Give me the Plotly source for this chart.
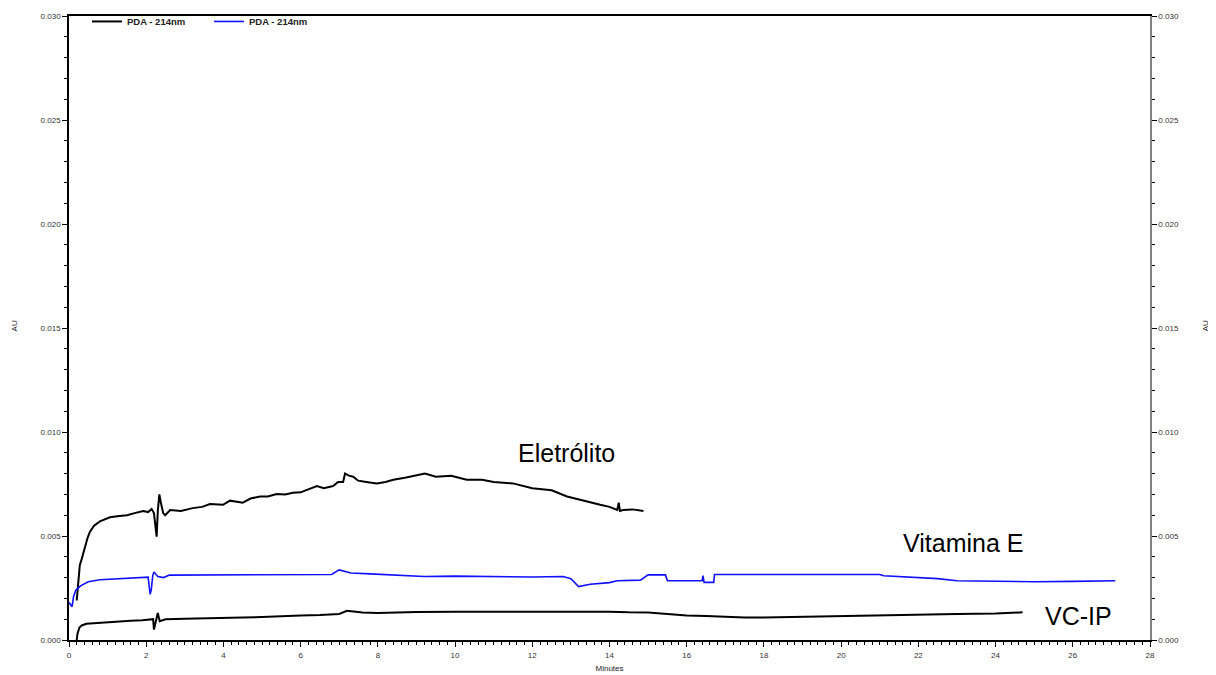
import plotly.graph_objects as go

# ---- data ----
eletrolito_t = [0.20, 0.24, 0.28, 0.33, 0.40, 0.48, 0.54, 0.65, 0.80, 0.95, 1.06, 1.25, 1.50, 1.70, 1.92, 2.05, 2.14,
                2.20, 2.24, 2.27, 2.30, 2.34, 2.38, 2.44, 2.49, 2.62, 2.90, 3.20, 3.45, 3.65, 3.99, 4.17, 4.35, 4.50,
                4.70, 4.95, 5.15, 5.38, 5.60, 5.80, 6.00, 6.16, 6.42, 6.60, 6.84, 6.97, 7.10, 7.15, 7.25, 7.36, 7.49,
                7.70, 7.97, 8.20, 8.40, 8.70, 9.00, 9.22, 9.50, 9.90, 10.30, 10.70, 11.00, 11.50, 12.00, 12.50, 12.90,
                13.30, 13.76, 14.00, 14.20, 14.24, 14.27, 14.35, 14.60, 14.88]
eletrolito_v = [0.0019, 0.0030, 0.0036, 0.0039, 0.0044, 0.0049, 0.0052, 0.0055, 0.0057, 0.0058, 0.0059, 0.00595, 0.0060,
                0.0061, 0.0062, 0.00615, 0.0063, 0.0061, 0.0055, 0.00497, 0.0062, 0.0070, 0.0066, 0.0061, 0.0060,
                0.00625, 0.0062, 0.00634, 0.0064, 0.00654, 0.0065, 0.0067, 0.00665, 0.0066, 0.0068, 0.0069, 0.0069,
                0.00702, 0.0070, 0.00708, 0.0071, 0.0072, 0.0074, 0.0073, 0.0074, 0.0076, 0.0076, 0.0080, 0.0079,
                0.00785, 0.00766, 0.0076, 0.00753, 0.0076, 0.0077, 0.0078, 0.0079, 0.0080, 0.00785, 0.0079, 0.0077,
                0.0077, 0.0076, 0.00753, 0.0073, 0.0072, 0.0069, 0.0067, 0.0065, 0.0064, 0.00625, 0.0066, 0.0062,
                0.00625, 0.00628, 0.0062]

vitamina_t = [0.00, 0.05, 0.08, 0.12, 0.18, 0.30, 0.50, 0.80, 1.20, 1.70, 2.05, 2.10, 2.13, 2.17, 2.20, 2.30, 2.45,
              2.60, 4.00, 5.00, 6.00, 6.80, 7.00, 7.30, 7.80, 8.50, 9.20, 10.00, 11.00, 12.00, 12.80, 13.00, 13.20,
              13.50, 14.00, 14.20, 14.80, 15.00, 15.45, 15.50, 16.40, 16.42, 16.45, 16.70, 16.72, 21.00, 21.10,
              21.90, 22.50, 23.00, 24.00, 25.00, 26.00, 27.10]
vitamina_v = [0.0018, 0.0017, 0.0016, 0.0021, 0.0024, 0.0026, 0.0028, 0.0029, 0.00295, 0.0030, 0.00302, 0.0022,
              0.0024, 0.0031, 0.00327, 0.00305, 0.0030, 0.00312, 0.00313, 0.00313, 0.00315, 0.00315, 0.00337,
              0.00322, 0.00318, 0.00313, 0.00305, 0.00307, 0.00305, 0.00303, 0.00305, 0.00295, 0.00257, 0.00268,
              0.00276, 0.00285, 0.00288, 0.00313, 0.00313, 0.00285, 0.00285, 0.0031, 0.00277, 0.00277, 0.00315,
              0.00315, 0.00309, 0.00301, 0.00295, 0.00285, 0.00283, 0.0028, 0.00282, 0.00285]

vcip_t = [0.20, 0.22, 0.27, 0.33, 0.45, 0.60, 0.80, 1.00, 1.30, 1.60, 1.90, 2.10, 2.18, 2.20, 2.25, 2.30, 2.35, 2.50,
          3.00, 3.50, 4.00, 4.50, 5.00, 5.50, 6.00, 6.50, 7.00, 7.20, 7.60, 8.00, 8.50, 9.00, 10.00, 11.00, 12.00,
          13.00, 14.00, 14.50, 15.00, 15.50, 16.00, 16.50, 17.00, 17.50, 18.00, 18.50, 19.00, 20.00, 21.00, 22.00,
          23.00, 24.00, 24.50, 24.70]
vcip_v = [0.0000, 0.0003, 0.0006, 0.0007, 0.00078, 0.0008, 0.00085, 0.00088, 0.0009, 0.00093, 0.00095, 0.00098,
          0.0010, 0.0005, 0.0009, 0.0013, 0.0009, 0.0010, 0.00102, 0.00103, 0.00105, 0.00108, 0.0011, 0.00115,
          0.00118, 0.0012, 0.00125, 0.0014, 0.00132, 0.0013, 0.00133, 0.00135, 0.00136, 0.00136, 0.00138, 0.00137,
          0.00136, 0.00133, 0.00132, 0.00125, 0.00118, 0.00115, 0.0011, 0.00108, 0.00108, 0.0011, 0.00112, 0.00115,
          0.00118, 0.00123, 0.00125, 0.00127, 0.0013, 0.00133]

legend_label = "PDA - 214nm"
labels = ["Eletrólito", "Vitamina E", "VC-IP"]
label_pos = [(12.88, 0.00899), (23.15, 0.00466), (26.14, 0.00115)]

x_range = [0, 28]
y_range = [0, 0.030]

FONT = "Liberation Sans, Arial, sans-serif"

fig = go.Figure()
fig.add_trace(go.Scatter(x=eletrolito_t, y=eletrolito_v, mode="lines", name="<b>" + legend_label + "</b>",
                         line=dict(color="black", width=2), showlegend=True))
fig.add_trace(go.Scatter(x=vitamina_t, y=vitamina_v, mode="lines", name="<b>" + legend_label + "</b>",
                         line=dict(color="#1010ff", width=1.6), showlegend=True))
fig.add_trace(go.Scatter(x=vcip_t, y=vcip_v, mode="lines", name="VC-IP",
                         line=dict(color="black", width=2), showlegend=False))
# invisible trace to anchor right axis
fig.add_trace(go.Scatter(x=vcip_t, y=vcip_v, mode="lines", yaxis="y2", opacity=0,
                         showlegend=False, hoverinfo="skip", line=dict(width=0.1)))

for txt, (ax, ay) in zip(labels, label_pos):
    fig.add_annotation(x=ax, y=ay, text=txt, showarrow=False,
                       font=dict(family=FONT, size=25, color="black"))

fig.add_annotation(xref="paper", yref="paper", x=-0.0566, y=0.503, text="AU", textangle=-90,
                   showarrow=False, font=dict(family=FONT, size=8, color="#222"))
fig.add_annotation(xref="paper", yref="paper", x=1.057, y=0.503, text="AU", textangle=-90,
                   showarrow=False, font=dict(family=FONT, size=8, color="#222"))

axis_font = dict(family=FONT, size=8, color="#333")

# page body has an 8px margin, so figure is 8px smaller and margins compensate
fig.update_layout(
    width=1208, height=667,
    margin=dict(l=61, r=66, t=8, b=35, autoexpand=False),
    paper_bgcolor="white", plot_bgcolor="white",
    font=dict(family=FONT, size=8, color="#222"),
    showlegend=True,
    legend=dict(orientation="h", x=0.0166, y=1.0145, xanchor="left", yanchor="top",
                font=dict(family=FONT, size=9.5, color="#222"), bgcolor="rgba(0,0,0,0)",
                itemwidth=30, entrywidth=77, entrywidthmode="pixels"),
    xaxis=dict(range=x_range, dtick=2, tick0=0, showgrid=False, zeroline=False,
               showline=True, linecolor="black", linewidth=1.5, mirror=True,
               ticks="outside", ticklen=5, tickcolor="black", tickwidth=1,
               tickfont=axis_font, ticklabelstandoff=2, automargin=False,
               minor=dict(dtick=0.2, ticks="outside", ticklen=3, tickcolor="black", showgrid=False),
               title=dict(text="Minutes", font=dict(family=FONT, size=8, color="#222"), standoff=6)),
    yaxis=dict(range=y_range, dtick=0.005, tick0=0, tickformat=".3f", showgrid=False, zeroline=False,
               showline=True, linecolor="black", linewidth=1.5, automargin=False,
               ticks="outside", ticklen=5, tickcolor="black", tickwidth=1,
               tickfont=axis_font,
               minor=dict(dtick=0.001, ticks="outside", ticklen=3, tickcolor="black", showgrid=False)),
    yaxis2=dict(range=y_range, dtick=0.005, tick0=0, tickformat=".3f", overlaying="y", side="right",
                showgrid=False, zeroline=False, showline=True, linecolor="#808080", linewidth=1.5,
                automargin=False,
                ticks="outside", ticklen=5, tickcolor="black", tickwidth=1,
                tickfont=axis_font,
                minor=dict(dtick=0.001, ticks="outside", ticklen=3, tickcolor="black", showgrid=False)),
)

fig.write_html("out.html")
